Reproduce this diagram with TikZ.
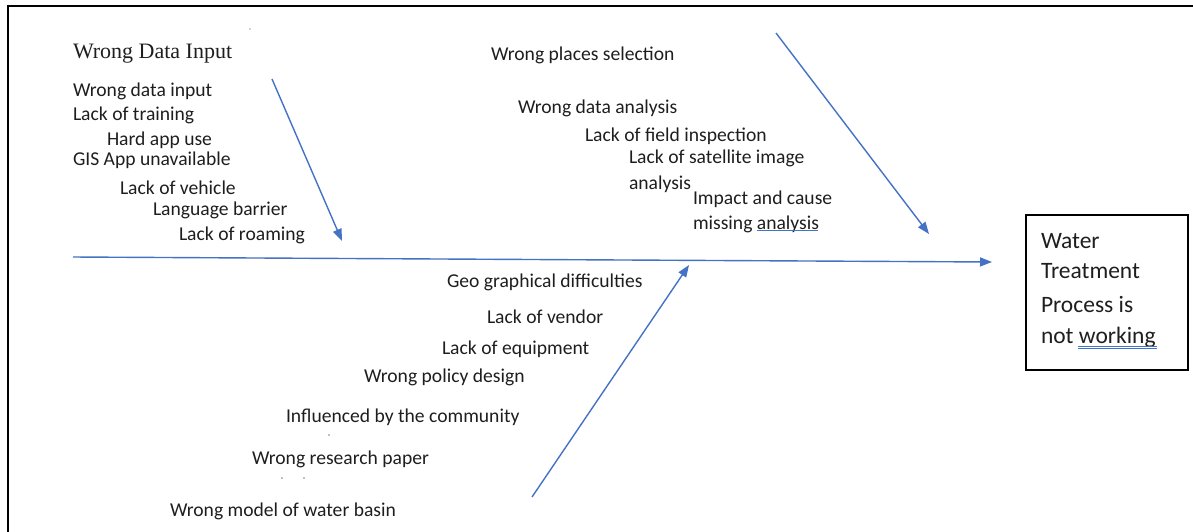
\documentclass[tikz,border=0pt]{standalone}
\usepackage{fontspec}
\setmainfont{Carlito}
\newfontfamily\titleserif{Liberation Serif}
\usetikzlibrary{arrows.meta}
\definecolor{officeblue}{RGB}{68,114,196}
\definecolor{txt}{RGB}{30,30,30}
\tikzset{
  lbl/.style={anchor=base west, inner sep=0pt, outer sep=0pt, text=txt, font=\fontsize{19.6}{23}\selectfont},
  boxlbl/.style={anchor=base west, inner sep=0pt, outer sep=0pt, text=txt, font=\fontsize{23.5}{28}\selectfont},
  ttl/.style={anchor=base west, inner sep=0pt, outer sep=0pt, text=txt, font=\titleserif\fontsize{22}{26}\selectfont},
  bone/.style={draw=officeblue, line width=1.4pt, -{Triangle[length=12pt,width=9pt]}},
  effectbox/.style={draw=black, line width=1.3pt, minimum width=162pt, minimum height=155pt, inner sep=0pt},
  speck/.style={fill=#1, draw=none, inner sep=0pt, minimum size=1.8pt, circle},
  squig/.style={draw=officeblue, line width=1pt}
}
\begin{document}
\begin{tikzpicture}[x=1pt,y=-1pt]
\useasboundingbox (0,0) rectangle (1193,531);
% frame (top and left edges visible)
\draw[black, line width=2pt] (8,540) -- (8,6) -- (1200,6);

% top-left category
\node[ttl] (t1) at (73,58) {Wrong Data Input};
\node[lbl] (a1) at (73,96) {Wrong data input};
\node[lbl] (a2) at (73,120) {Lack of training};
\node[lbl] (a3) at (107,145) {Hard app use};
\node[lbl] (a4) at (73,165) {GIS App unavailable};
\node[lbl] (a5) at (120,194) {Lack of vehicle};
\node[lbl] (a6) at (153,215) {Language barrier};
\node[lbl] (a7) at (179,240) {Lack of roaming};

% top-right category
\node[lbl] (b1) at (491,60) {Wrong places selection};
\node[lbl] (b2) at (518,113) {Wrong data analysis};
\node[lbl] (b3) at (585,141) {Lack of field inspection};
\node[lbl] (b4) at (629,163) {Lack of satellite image};
\node[lbl] (b5) at (629,189) {analysis};
\node[lbl] (b6) at (693,204) {Impact and cause};
\node[lbl] (b7) at (693,229) {missing analysis};

% bottom category
\node[lbl] (c1) at (447,287) {Geo graphical difficulties};
\node[lbl] (c2) at (487,323) {Lack of vendor};
\node[lbl] (c3) at (442,354) {Lack of equipment};
\node[lbl] (c4) at (364,382) {Wrong policy design};
\node[lbl] (c5) at (286,422) {Influenced by the community};
\node[lbl] (c6) at (252,464) {Wrong research paper};
\node[lbl] (c7) at (170,516) {Wrong model of water basin};

% effect box
\node[effectbox] (box) at (1107,292.5) {};
\node[boxlbl] (e1) at (1041,248) {Water};
\node[boxlbl] (e2) at (1041,278) {Treatment};
\node[boxlbl] (e3) at (1041,312) {Process is};
\node[boxlbl] (e4) at (1041,343) {not working};

% spell-check underlines
\draw[squig] (757,230) -- (818,230);
\draw[officeblue, line width=0.9pt] (1078,346) -- (1157,346);
\draw[officeblue, line width=0.9pt] (1078,348.6) -- (1157,348.6);

% bones
\coordinate (s0) at (73,257);
\coordinate (s1) at (992,262);
\coordinate (p0) at (272,79);
\coordinate (p1) at (342,241);
\coordinate (q0) at (776,33);
\coordinate (q1) at (929,234);
\coordinate (r0) at (532,497);
\coordinate (r1) at (689,265);
\draw[bone] (s0) -- (s1);
\draw[bone] (p0) -- (p1);
\draw[bone] (q0) -- (q1);
\draw[bone] (r0) -- (r1);

% stray specks
\node[speck=officeblue!60] (d1) at (250,29) {};
\node[speck=gray] (d2) at (329,435) {};
\node[speck=gray] (d3) at (282,478) {};
\node[speck=gray] (d4) at (304,478) {};
\end{tikzpicture}
\end{document}
